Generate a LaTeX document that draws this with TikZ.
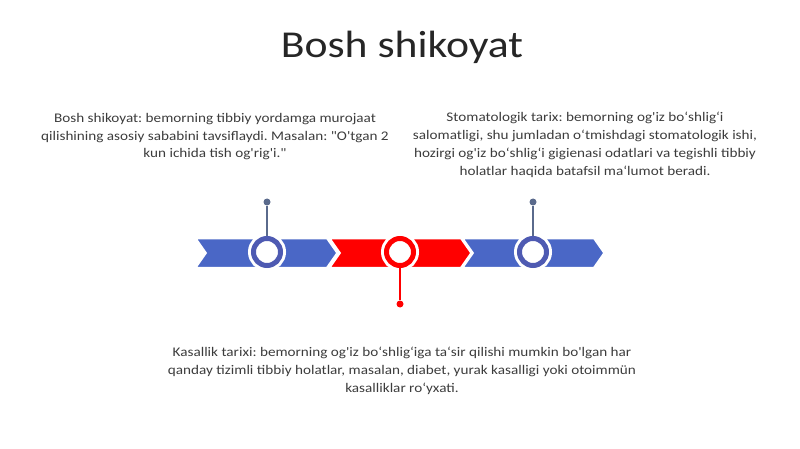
\documentclass[tikz,border=0pt]{standalone}
\usepackage{fontspec}
\newfontfamily\bodyfont{Carlito}[FakeStretch=1.15]
\usetikzlibrary{shapes.symbols}
\frenchspacing

\definecolor{bandblue}{RGB}{74,103,198}
\definecolor{ringblue}{RGB}{78,90,178}
\definecolor{stemgray}{RGB}{90,106,140}
\definecolor{textgray}{RGB}{60,60,60}
\definecolor{titlegray}{RGB}{38,38,38}

\tikzset{
  chevron/.style={signal, signal from=west, signal to=east, signal pointer angle=110,
    minimum width=141pt, minimum height=29pt, inner sep=0pt, fill=#1, draw=white, line width=1.5pt},
  markring/.style={circle, fill=white, draw=#1, line width=5pt, minimum size=27pt, inner sep=0pt,
    preaction={draw=white, line width=11pt}},
  markdot/.style={circle, fill=#1, minimum size=7pt, inner sep=0pt},
  blurb/.style={align=center, text=textgray, inner sep=0pt, font=\bodyfont\fontsize{13.2}{17.8}\selectfont}
}

\begin{document}
\begin{tikzpicture}[x=1pt,y=-1pt]
            \useasboundingbox (0,0) rectangle (800,449);

            \node[anchor=base, text=titlegray, font=\bodyfont\fontsize{38}{40}\selectfont] (title) at (402,58) {Bosh shikoyat};

            \node[chevron=bandblue] (band1) at (266.5,253) {};
            \node[chevron=red] (band2) at (400.5,253) {};
            \node[chevron=bandblue] (band3) at (533.5,253) {};

            \node[markring=ringblue] (ring1) at (267,252) {};
            \node[markring=red] (ring2) at (400,252) {};
            \node[markring=ringblue] (ring3) at (533,252) {};

            \node[markdot=stemgray] (dot1) at (267,202) {};
            \node[markdot=red] (dot2) at (400,304) {};
            \node[markdot=stemgray] (dot3) at (533,202) {};
            \draw[stemgray, line width=1.5pt] (dot1) -- (ring1);
            \draw[red, line width=1.5pt] (dot2) -- (ring2);
            \draw[stemgray, line width=1.5pt] (dot3) -- (ring3);

            \node[blurb, anchor=north] (complaint) at (215,113) {Bosh shikoyat: bemorning tibbiy yordamga murojaat\\
              qilishining asosiy sababini tavsiflaydi. Masalan: "O'tgan 2\\
              kun ichida tish og'rig'i."};
            \node[blurb, anchor=north] (dental) at (585,112) {Stomatologik tarix: bemorning og'iz boʻshligʻi\\
              salomatligi, shu jumladan oʻtmishdagi stomatologik ishi,\\
              hozirgi og'iz boʻshligʻi gigienasi odatlari va tegishli tibbiy\\
              holatlar haqida batafsil maʻlumot beradi.};
            \node[blurb, anchor=north] (history) at (402,347) {Kasallik tarixi: bemorning og'iz boʻshligʻiga taʻsir qilishi mumkin bo'lgan har\\
              qanday tizimli tibbiy holatlar, masalan, diabet, yurak kasalligi yoki otoimmün\\
              kasalliklar roʻyxati.};
\end{tikzpicture}
\end{document}
